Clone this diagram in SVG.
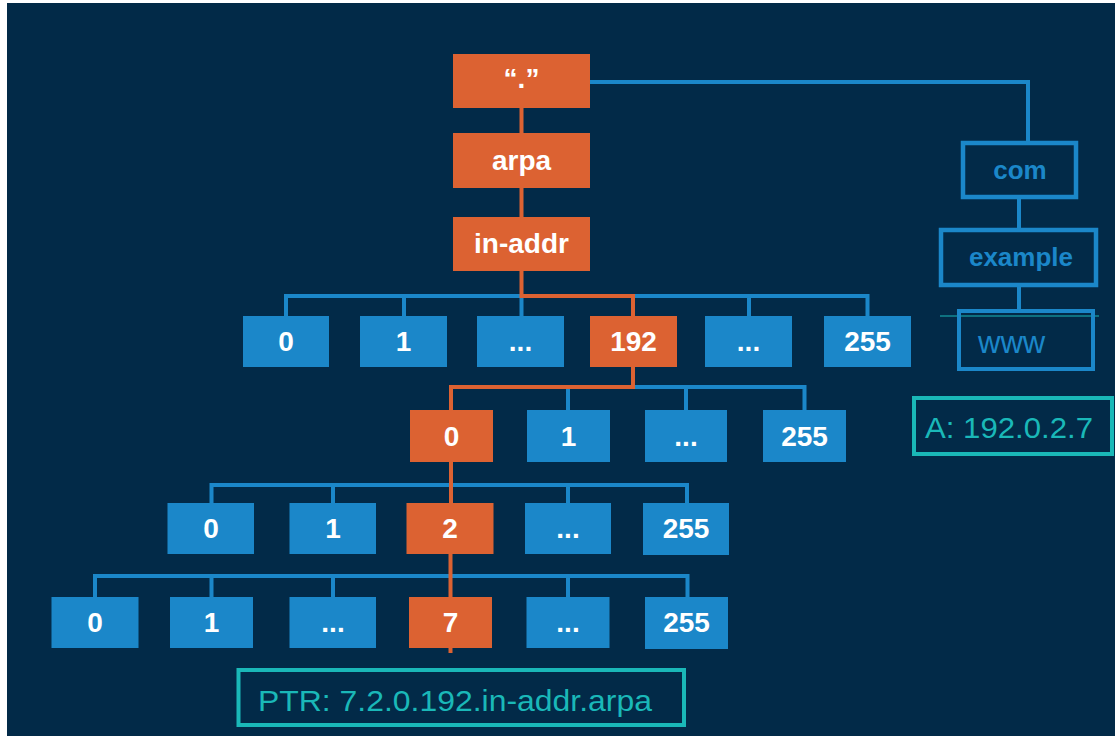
<svg xmlns="http://www.w3.org/2000/svg" width="1115" height="736" viewBox="0 0 1115 736">
<style>
.o{fill:#dc6232}
.b{fill:#1b87c9}
.t{font-family:"Liberation Sans",Arial,sans-serif;font-weight:bold;font-size:28px;fill:#ffffff;text-anchor:middle}
.bl{fill:none;stroke:#1b87c9;stroke-width:4}
.ol{fill:none;stroke:#dc6232;stroke-width:4}
.ob{fill:none;stroke:#1b87c9;stroke-width:4.5}
.bt{font-family:"Liberation Sans",Arial,sans-serif;font-weight:bold;font-size:26px;fill:#1b87c9;text-anchor:middle}
.tb{fill:none;stroke:#1ab8b8;stroke-width:4}
.tt{font-family:"Liberation Sans",Arial,sans-serif;font-size:30px;fill:#1ab8b8}
</style>
<rect x="0" y="0" width="1115" height="736" fill="#ffffff"/>
<rect x="7" y="3" width="1108" height="733" fill="#022a48"/>
<g id="connectors">
<line x1="940" y1="316" x2="1099" y2="316" stroke="#1ab8b8" stroke-width="1.2"/>
<polyline class="bl" points="590,82 1028,82 1028,143"/>
<line class="bl" x1="1019" y1="197" x2="1019" y2="230"/>
<line class="bl" x1="1019" y1="285" x2="1019" y2="311"/>
<line class="ol" x1="521.5" y1="108" x2="521.5" y2="133"/>
<line class="ol" x1="521.5" y1="188" x2="521.5" y2="217"/>
<polyline class="bl" points="286,316 286,296 867.5,296 867.5,316"/>
<line class="bl" x1="404" y1="296" x2="404" y2="316"/>
<line class="bl" x1="521.5" y1="296" x2="521.5" y2="316"/>
<line class="bl" x1="749" y1="296" x2="749" y2="316"/>
<polyline class="ol" points="521.5,271 521.5,296 633,296 633,316"/>
<polyline class="bl" points="633,387 804.5,387 804.5,410"/>
<line class="bl" x1="568" y1="387" x2="568" y2="410"/>
<line class="bl" x1="686" y1="387" x2="686" y2="410"/>
<polyline class="ol" points="633,367 633,387 451,387 451,410"/>
<polyline class="bl" points="211.5,503 211.5,485 687,485 687,503"/>
<line class="bl" x1="333" y1="485" x2="333" y2="503"/>
<line class="bl" x1="568" y1="485" x2="568" y2="503"/>
<polyline class="bl" points="95,597 95,576 687.5,576 687.5,597"/>
<line class="bl" x1="211.5" y1="576" x2="211.5" y2="597"/>
<line class="bl" x1="333" y1="576" x2="333" y2="597"/>
<line class="bl" x1="568" y1="576" x2="568" y2="597"/>
<line class="ol" x1="451" y1="462" x2="451" y2="503"/>
<line class="ol" x1="450.5" y1="553" x2="450.5" y2="653"/>
</g>
<g id="root"><rect class="o" x="453" y="54" width="137" height="54"/><text class="t" x="521.5" y="88">“.”</text></g>
<g id="arpa"><rect class="o" x="453" y="133" width="137" height="55"/><text class="t" x="521.5" y="170">arpa</text></g>
<g id="in-addr"><rect class="o" x="453" y="217" width="137" height="54"/><text class="t" x="521.5" y="253">in-addr</text></g>
<g id="com"><rect class="ob" x="963" y="143" width="113" height="54"/><text class="bt" x="1020" y="179">com</text></g>
<g id="example"><rect class="ob" x="941" y="230" width="155" height="55"/><text class="bt" x="1021" y="266">example</text></g>
<g id="www"><rect class="bl" x="959" y="311" width="134" height="58"/><text x="978" y="353" font-family="Liberation Sans, Arial, sans-serif" font-size="31" fill="#1b87c9">www</text></g>
<g id="a-record"><rect class="tb" x="914" y="398" width="198" height="56"/><text class="tt" x="925" y="438" textLength="168" lengthAdjust="spacingAndGlyphs">A: 192.0.2.7</text></g>
<g id="ptr-record"><rect class="tb" x="238.5" y="670" width="445.5" height="55"/><text class="tt" x="258" y="711" textLength="394" lengthAdjust="spacingAndGlyphs">PTR: 7.2.0.192.in-addr.arpa</text></g>
<g id="r1-0"><rect class="b" x="243" y="316" width="86" height="51"/><text class="t" x="286" y="351">0</text></g>
<g id="r1-1"><rect class="b" x="360" y="316" width="87" height="51"/><text class="t" x="403.5" y="351">1</text></g>
<g id="r1-dots1"><rect class="b" x="477" y="316" width="87" height="51"/><text class="t" x="520.5" y="351">...</text></g>
<g id="r1-192"><rect class="o" x="590" y="316" width="87" height="51"/><text class="t" x="633.5" y="351">192</text></g>
<g id="r1-dots2"><rect class="b" x="705" y="316" width="87" height="51"/><text class="t" x="748.5" y="351">...</text></g>
<g id="r1-255"><rect class="b" x="824" y="316" width="87" height="51"/><text class="t" x="867.5" y="351">255</text></g>
<g id="r2-0"><rect class="o" x="410" y="410" width="83" height="52"/><text class="t" x="451.5" y="446">0</text></g>
<g id="r2-1"><rect class="b" x="527" y="410" width="83" height="52"/><text class="t" x="568.5" y="446">1</text></g>
<g id="r2-dots"><rect class="b" x="645" y="410" width="82" height="52"/><text class="t" x="686" y="446">...</text></g>
<g id="r2-255"><rect class="b" x="763" y="410" width="83" height="52"/><text class="t" x="804.5" y="446">255</text></g>
<g id="r3-0"><rect class="b" x="167.5" y="503" width="86.5" height="51"/><text class="t" x="211" y="538">0</text></g>
<g id="r3-1"><rect class="b" x="289.5" y="503" width="86.5" height="51"/><text class="t" x="333" y="538">1</text></g>
<g id="r3-2"><rect class="o" x="406.5" y="503" width="87" height="51"/><text class="t" x="450" y="538">2</text></g>
<g id="r3-dots"><rect class="b" x="525" y="503" width="86" height="51"/><text class="t" x="568" y="538">...</text></g>
<g id="r3-255"><rect class="b" x="643" y="503" width="86" height="52"/><text class="t" x="686" y="538">255</text></g>
<g id="r4-0"><rect class="b" x="51.5" y="597" width="87" height="51"/><text class="t" x="95" y="632">0</text></g>
<g id="r4-1"><rect class="b" x="170" y="597" width="83" height="51"/><text class="t" x="211.5" y="632">1</text></g>
<g id="r4-dots1"><rect class="b" x="289.5" y="597" width="86.5" height="51"/><text class="t" x="333" y="632">...</text></g>
<g id="r4-7"><rect class="o" x="409" y="597" width="83" height="51"/><text class="t" x="450.5" y="632">7</text></g>
<g id="r4-dots2"><rect class="b" x="526.5" y="597" width="83" height="51"/><text class="t" x="568" y="632">...</text></g>
<g id="r4-255"><rect class="b" x="645" y="597" width="83" height="52"/><text class="t" x="686.5" y="632">255</text></g>
</svg>
